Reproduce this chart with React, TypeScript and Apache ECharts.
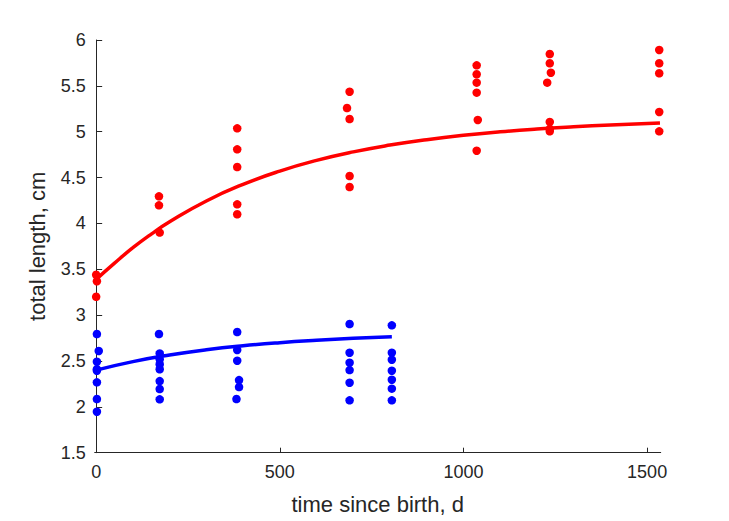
import React, { useEffect, useRef } from "react";
import * as echarts from "echarts";

// Red group (measured points)
const redX = [0, 2, 0, 171, 171, 173, 384, 384, 384, 384, 384, 690, 683, 690, 690, 690, 1036, 1036, 1036, 1036, 1039, 1036, 1235, 1235, 1238, 1228, 1235, 1235, 1235, 1533, 1533, 1533, 1533, 1533];
const redY = [3.44, 3.37, 3.2, 4.295, 4.197, 3.9, 5.037, 4.808, 4.615, 4.208, 4.1, 5.436, 5.258, 5.138, 4.517, 4.397, 5.724, 5.626, 5.535, 5.426, 5.128, 4.793, 5.847, 5.746, 5.643, 5.535, 5.106, 5.03, 5.004, 5.891, 5.746, 5.637, 5.215, 5.004];

// Blue group (measured points)
const blueX = [2, 7, 2, 2, 2, 2, 2, 2, 171, 173, 173, 173, 173, 173, 173, 173, 384, 384, 384, 389, 389, 382, 690, 690, 690, 690, 690, 690, 805, 805, 805, 805, 805, 805, 805];
const blueY = [2.794, 2.609, 2.492, 2.41, 2.394, 2.267, 2.085, 1.947, 2.794, 2.583, 2.518, 2.463, 2.409, 2.281, 2.194, 2.082, 2.816, 2.62, 2.503, 2.292, 2.216, 2.085, 2.903, 2.59, 2.481, 2.401, 2.263, 2.071, 2.889, 2.59, 2.514, 2.394, 2.296, 2.198, 2.071];

// Fitted curves
const redCurveX = [0, 50, 100, 150, 200, 300, 400, 500, 600, 700, 800, 900, 1000, 1100, 1200, 1300, 1400, 1535];
const redCurveY = [3.39, 3.567, 3.735, 3.884, 4.018, 4.245, 4.426, 4.571, 4.687, 4.78, 4.854, 4.913, 4.961, 4.999, 5.029, 5.053, 5.073, 5.095];
const blueCurveX = [0, 100, 200, 300, 400, 500, 600, 700, 805];
const blueCurveY = [2.4, 2.493, 2.565, 2.622, 2.666, 2.7, 2.726, 2.747, 2.764];

const xTicks = [0, 500, 1000, 1500];

const zip = (xs: number[], ys: number[]) => xs.map((x, i) => [x, ys[i]]);

export default function App() {
  const ref = useRef<HTMLDivElement>(null);
  useEffect(() => {
    if (!ref.current) return;
    const chart = echarts.init(ref.current, null, { renderer: "svg" });
    const axisColor = "#262626";
    const font = "Liberation Sans, Arial, Helvetica, sans-serif";
    chart.setOption({
      animation: false,
      backgroundColor: "#ffffff",
      grid: { left: 94.7, right: 68.3, top: 40, bottom: 68.3, containLabel: false },
      xAxis: {
        type: "value",
        min: -4,
        max: 1537,
        name: "time since birth, d",
        nameLocation: "middle",
        nameGap: 41,
        nameTextStyle: { color: axisColor, fontSize: 22, fontFamily: font },
        axisLine: { show: true, lineStyle: { color: axisColor, width: 1 } },
        axisTick: { show: true, inside: true, length: 5, customValues: xTicks, lineStyle: { color: axisColor } },
        axisLabel: {
          color: axisColor,
          fontSize: 18,
          fontFamily: font,
          margin: 10,
          customValues: xTicks,
          formatter: (v: number) => String(v),
        },
        splitLine: { show: false },
      },
      yAxis: {
        type: "value",
        min: 1.5,
        max: 6,
        interval: 0.5,
        name: "total length, cm",
        nameLocation: "middle",
        nameGap: 46,
        nameTextStyle: { color: axisColor, fontSize: 22, fontFamily: font },
        axisLine: { show: true, lineStyle: { color: axisColor, width: 1 } },
        axisTick: { show: true, inside: true, length: 6, lineStyle: { color: axisColor } },
        axisLabel: { color: axisColor, fontSize: 18, fontFamily: font, margin: 9, formatter: (v: number) => String(v) },
        splitLine: { show: false },
      },
      series: [
        {
          type: "line",
          data: zip(redCurveX, redCurveY),
          smooth: true,
          showSymbol: false,
          symbol: "none",
          lineStyle: { color: "#ff0000", width: 3.5 },
          z: 2,
        },
        {
          type: "line",
          data: zip(blueCurveX, blueCurveY),
          smooth: true,
          showSymbol: false,
          symbol: "none",
          lineStyle: { color: "#0000ff", width: 3.5 },
          z: 2,
        },
        {
          type: "scatter",
          data: zip(redX, redY),
          symbol: "circle",
          symbolSize: 8.5,
          itemStyle: { color: "#ff0000", opacity: 1 },
          clip: false,
          z: 3,
        },
        {
          type: "scatter",
          data: zip(blueX, blueY),
          symbol: "circle",
          symbolSize: 8.5,
          itemStyle: { color: "#0000ff", opacity: 1 },
          clip: false,
          z: 3,
        },
      ],
    });
    return () => chart.dispose();
  }, []);
  return (
    <div
      ref={ref}
      style={{ position: "fixed", left: 0, top: 0, width: 729, height: 521, background: "#fff" }}
    />
  );
}
